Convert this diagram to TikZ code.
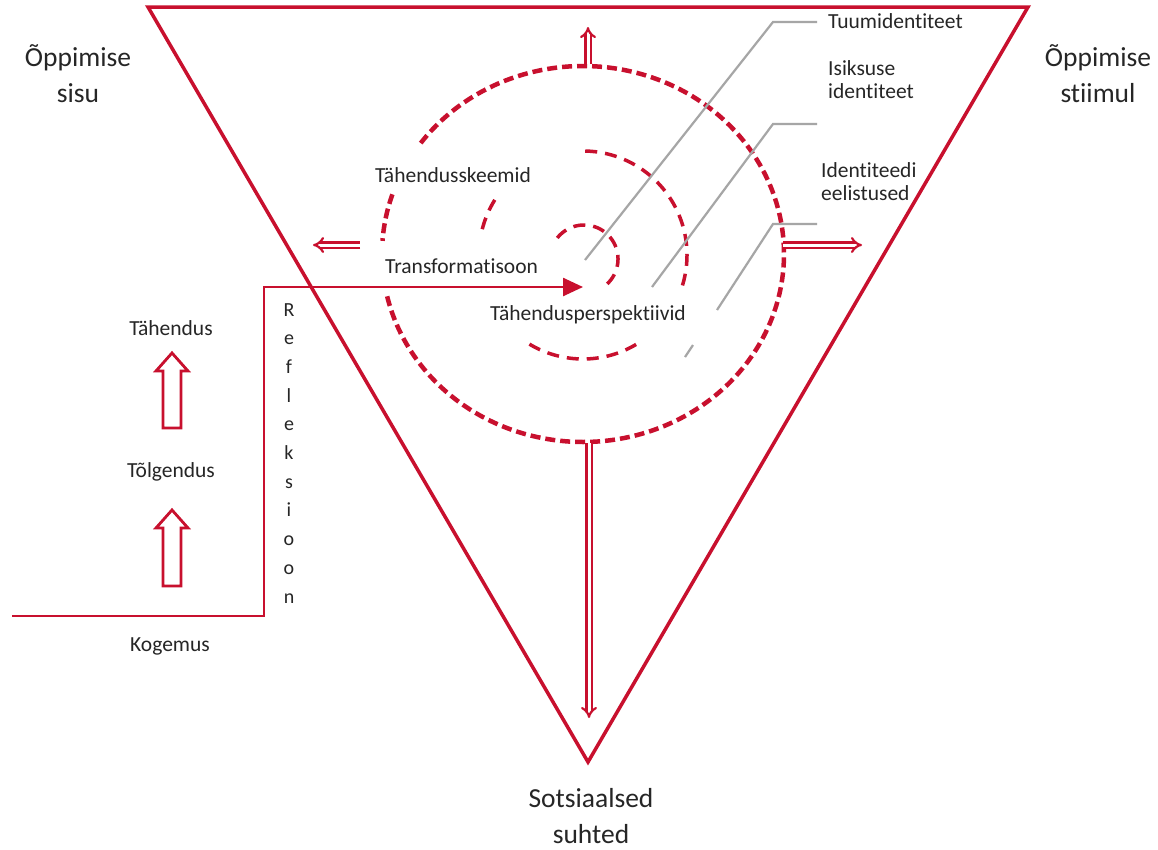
\documentclass[tikz,border=0pt]{standalone}
\usepackage{fontspec}
\setmainfont{Carlito}[Ligatures=NoCommon]
\usetikzlibrary{arrows.meta}
\definecolor{rd}{HTML}{C8102E}
\definecolor{gr}{HTML}{A6A6A6}
\definecolor{tx}{HTML}{262626}
\begin{document}
\begin{tikzpicture}[x=1pt,y=-1pt,
  lab/.style={text=tx, font=\fontsize{21.5}{23}\selectfont, inner sep=0pt},
  big/.style={text=tx, font=\fontsize{27.5}{36}\selectfont, inner sep=0pt, align=center},
  ring/.style={draw=rd, line width=4.5pt, dash pattern=on 10pt off 5pt},
  ringm/.style={draw=rd, line width=3.5pt, dash pattern=on 12pt off 8pt},
  dbl/.style={draw=rd, line width=2.2pt, double=white, double distance=3pt, -{Implies}},
  hollow/.style={draw=rd, line width=2.8pt, fill=white, line join=miter},
  leader/.style={draw=gr, line width=2.2pt},
  link/.style={draw=rd, line width=2.5pt},
]
\useasboundingbox (0,0) rectangle (1158,849);
\fill[white] (0,0) rectangle (1158,849);

% triangle
\coordinate (tl) at (148,7);
\coordinate (tr) at (1028,7);
\coordinate (tb) at (588,762);
\draw[rd, line width=3.5pt, line join=miter] (tl) -- (tr) -- (tb) -- cycle;

% rings
\draw[ring] plot[domain=193:505, samples=240] ({583+201*cos(\x)},{254-188*sin(\x)});
\draw[ring] plot[domain=161.5:176, samples=20] ({583+201*cos(\x)},{254-188*sin(\x)});
\draw[ringm] plot[domain=-121:-59, samples=40] ({583+104*cos(\x)},{255-104*sin(\x)});
\draw[ringm] plot[domain=-17:93, samples=80] ({583+104*cos(\x)},{255-104*sin(\x)});
\draw[ringm] plot[domain=148:168, samples=20] ({583+104*cos(\x)},{255-104*sin(\x)});
\draw[ringm] plot[domain=-47:147, samples=100] ({584+34*cos(\x)},{259-34*sin(\x)});

% leader lines
\coordinate (l1e) at (817,22);  \coordinate (l1k) at (773,22);  \coordinate (l1s) at (585,260);
\coordinate (l2e) at (817,124); \coordinate (l2k) at (773,124); \coordinate (l2s) at (652,287);
\coordinate (l3e) at (817,224); \coordinate (l3k) at (773,224); \coordinate (l3s) at (717,310);
\coordinate (l4a) at (693,345); \coordinate (l4b) at (685,357);
\draw[leader] (l1e) -- (l1k) -- (l1s);
\draw[leader] (l2e) -- (l2k) -- (l2s);
\draw[leader] (l3e) -- (l3k) -- (l3s);
\draw[leader] (l4a) -- (l4b);

% double arrows from the outer ring
\coordinate (rt) at (588,64);  \coordinate (at) at (588,27);
\coordinate (rl) at (360,245); \coordinate (al) at (313,245);
\coordinate (rr) at (783,245); \coordinate (ar) at (862,245);
\coordinate (rb) at (589,443); \coordinate (ab) at (589,718);
\draw[dbl] (rt) -- (at);
\draw[dbl] (rl) -- (al);
\draw[dbl] (rr) -- (ar);
\draw[dbl] (rb) -- (ab);

% reflection path
\coordinate (k0) at (12,616);
\coordinate (k1) at (264,616);
\coordinate (k2) at (264,287);
\coordinate (k3) at (583,287);
\draw[link, -{Triangle[length=20pt,width=18pt]}] (k0) -- (k1) -- (k2) -- (k3);

% hollow block arrows
\draw[hollow] (172,353) -- (188,371) -- (181,371) -- (181,428) -- (163,428) -- (163,371) -- (156,371) -- cycle;
\draw[hollow] (172,510) -- (188,528) -- (181,528) -- (181,586) -- (163,586) -- (163,528) -- (156,528) -- cycle;

% texts
\node[big, anchor=base] (sisu) at (78,102) {Õppimise\\sisu};
\node[big, anchor=base] (stiim) at (1098,102) {Õppimise\\stiimul};
\node[big, anchor=base] (sots) at (591,843) {Sotsiaalsed\\suhted};
\node[lab, anchor=base west] (tuum) at (828,28) {Tuumidentiteet};
\node[lab, anchor=base west, align=left] (isik) at (828,98) {Isiksuse\\identiteet};
\node[lab, anchor=base west, align=left] (eel) at (821,200) {Identiteedi\\eelistused};
\node[lab, anchor=base west] (skeem) at (375,182) {Tähendusskeemid};
\node[lab, anchor=base west] (trans) at (385,273) {Transformatisoon};
\node[lab, anchor=base west] (persp) at (490,320) {Tähendusperspektiivid};
\node[lab, anchor=base] (tah) at (171,335) {Tähendus};
\node[lab, anchor=base] (tolg) at (171,477) {Tõlgendus};
\node[lab, anchor=base] (kog) at (170,651) {Kogemus};
\node[lab, anchor=base, align=center, font=\fontsize{20}{28.7}\selectfont] (refl) at (289,603) {R\\e\\f\\l\\e\\k\\s\\i\\o\\o\\n};
\end{tikzpicture}
\end{document}
